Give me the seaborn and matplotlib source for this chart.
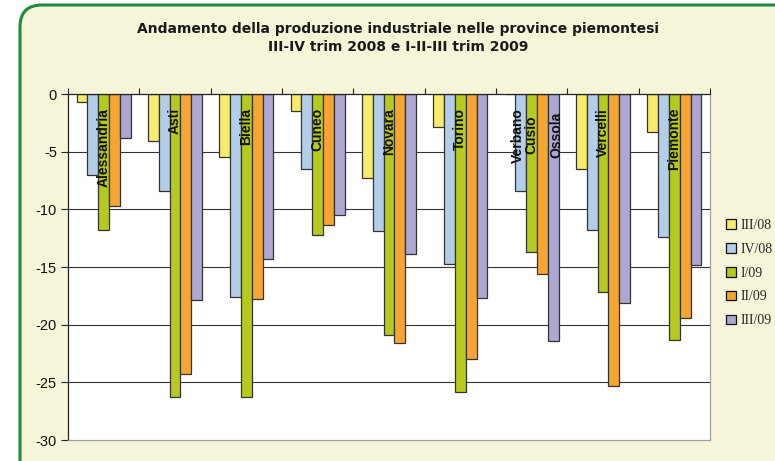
import matplotlib
matplotlib.use("Agg")
import matplotlib.pyplot as plt
import seaborn as sns
import pandas as pd
import numpy as np
from matplotlib.patches import FancyBboxPatch
from matplotlib.transforms import IdentityTransform

provinces = ["Alessandria", "Asti", "Biella", "Cuneo", "Novara", "Torino",
             "Verbano Cusio Ossola", "Vercelli", "Piemonte"]
label_texts = ["Alessandria", "Asti", "Biella", "Cuneo", "Novara", "Torino",
               "Verbano\nCusio\n\nOssola", "Vercelli", "Piemonte"]
label_shift = [0, 0, 0, 0, 0, 0, 0.08, 0, 0]
series = ["III/08", "IV/08", "I/09", "II/09", "III/09"]
iii08 = [-0.7, -4.1, -5.5, -1.5, -7.3, -2.9, 0.0, -6.5, -3.3]
iv08 = [-7.0, -8.4, -17.6, -6.5, -11.9, -14.7, -8.4, -11.8, -12.4]
i09 = [-11.8, -26.3, -26.3, -12.2, -20.9, -25.8, -13.7, -17.2, -21.3]
ii09 = [-9.7, -24.3, -17.8, -11.4, -21.6, -23.0, -15.6, -25.3, -19.4]
iii09 = [-3.8, -17.9, -14.3, -10.5, -13.9, -17.7, -21.4, -18.1, -14.8]
colors = ["#F7EB6B", "#B4CDE9", "#B6C91E", "#F5A533", "#ADA8D3"]

title = "Andamento della produzione industriale nelle province piemontesi\nIII-IV trim 2008 e I-II-III trim 2009"

rows = []
for s, vals in zip(series, [iii08, iv08, i09, ii09, iii09]):
    for p, v in zip(provinces, vals):
        rows.append({"Provincia": p, "Periodo": s, "Valore": v})
df = pd.DataFrame(rows)

sns.set_theme(style="white")
plt.rcParams["font.family"] = ["Liberation Sans", "DejaVu Sans"]

fig = plt.figure(figsize=(7.75, 4.61), dpi=100, facecolor="white")
# rounded green frame with cream fill
frame = FancyBboxPatch((20, -40), 800, 496, boxstyle="round,pad=0,rounding_size=22",
                       transform=IdentityTransform(), facecolor="#F6F5D9",
                       edgecolor="#1F8B3E", linewidth=2.2, zorder=-10)
fig.patches.append(frame)

ax = fig.add_axes([68 / 775, 1 - 440 / 461, (710 - 68) / 775, (440 - 94) / 461])
ax.set_facecolor("white")
ax.set_axisbelow(True)

sns.barplot(data=df, x="Provincia", y="Valore", hue="Periodo", order=provinces,
            hue_order=series, palette=colors, width=0.76, dodge=True,
            edgecolor="#333333", linewidth=0.9, saturation=1, ax=ax, legend=True)

ax.set_ylim(-30, 0)
ax.set_xlim(-0.5, len(provinces) - 0.5)
ax.set_yticks(np.arange(-30, 1, 5))
ax.set_yticklabels([str(v) for v in np.arange(-30, 1, 5)], fontsize=10.5, color="#111111")
ax.tick_params(axis="y", which="major", direction="out", length=5, width=0.8,
               color="#222222", left=True, pad=3)
for yv in range(-25, 0, 5):
    ax.axhline(yv, color="#333333", linewidth=0.8, zorder=0.5)

ax.xaxis.tick_top()
ax.set_xticks(np.arange(-0.5, len(provinces), 1.0))
ax.set_xticklabels([""] * (len(provinces) + 1))
ax.tick_params(axis="x", direction="out", length=4, width=0.8, color="#222222", top=True,
               bottom=False)
ax.set_xlabel("")
ax.set_ylabel("")

for side in ["left", "top"]:
    ax.spines[side].set_color("#222222")
    ax.spines[side].set_linewidth(0.9)
for side in ["right", "bottom"]:
    ax.spines[side].set_color("#A0A0A0")
    ax.spines[side].set_linewidth(0.9)

for i, (t, sh) in enumerate(zip(label_texts, label_shift)):
    ax.text(i + sh, -1.2, t, rotation=90, ha="center", va="top", fontsize=10,
            fontweight="bold", color="#111111", linespacing=0.88,
            multialignment="center", zorder=5)

fig.text(0.514, 0.918, title, ha="center", va="center", fontsize=10, fontweight="bold",
         family=["DejaVu Sans"], color="#1a1a1a", linespacing=1.35)

h, l = ax.get_legend_handles_labels()
ax.get_legend().remove()
leg = fig.legend(h, l, loc="upper left", bbox_to_anchor=(0.93, 0.537), frameon=False,
                 handlelength=0.7, handleheight=0.7, handletextpad=0.3,
                 labelspacing=0.78, borderaxespad=0,
                 prop={"family": "Liberation Serif", "size": 10})
for p in leg.get_patches():
    p.set_edgecolor("#111111")
    p.set_linewidth(0.9)

fig.savefig("out.png", dpi=100, facecolor="white")
